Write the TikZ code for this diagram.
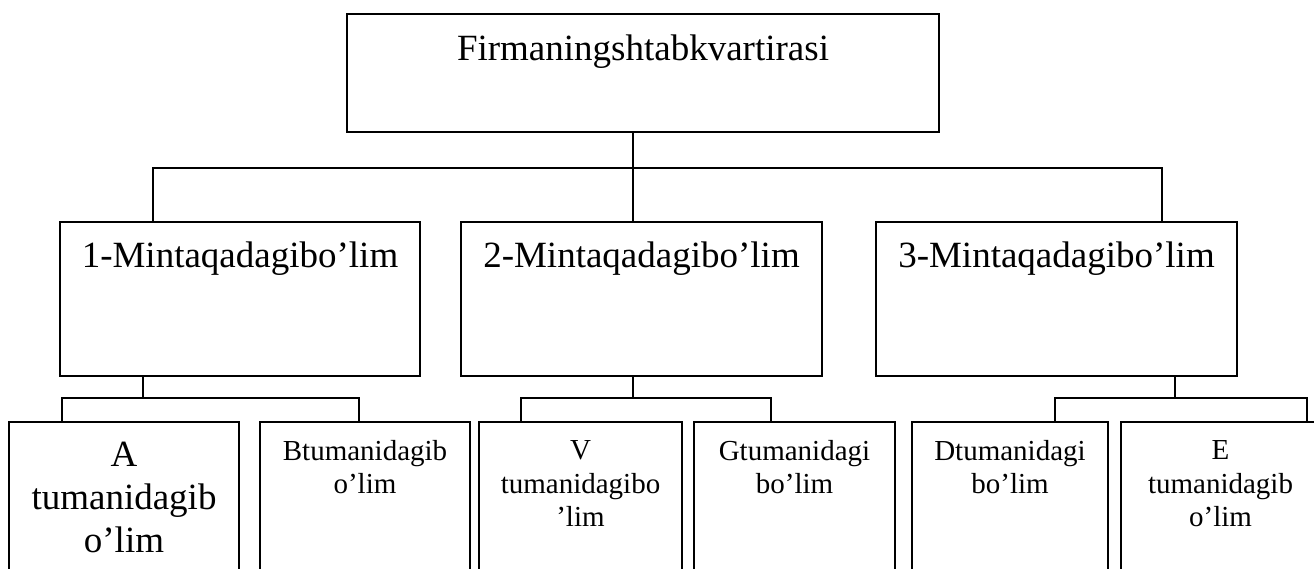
\documentclass[tikz,border=0pt]{standalone}
\usepackage{fontspec}
\setmainfont{Liberation Serif}
\begin{document}
% one unit = one point, y axis pointing down
\newcommand\celltext[4]{\parbox[c][#2pt][t]{#1pt}{\centering\vspace{#3pt}#4\par}}
\begin{tikzpicture}[x=1pt,y=-1pt,
  unit/.style={draw, line width=1.8pt, inner sep=0pt, outer sep=0pt, anchor=north west},
  link/.style={line width=1.8pt},
  big/.style={font=\fontsize{37}{43}\selectfont},
  small/.style={font=\fontsize{29}{33.5}\selectfont}]
\useasboundingbox (0,0) rectangle (1314,569);
\clip (0,0) rectangle (1314,569);

% headquarters
\node[unit,big] (hq) at (347,14) {\celltext{592}{118}{20.7}{Firmaningshtabkvartirasi}};

% regional departments
\node[unit,big] (r1) at (60,222)  {\celltext{360}{154}{19.7}{1-Mintaqadagibo’lim}};
\node[unit,big] (r2) at (461,222) {\celltext{361}{154}{19.7}{2-Mintaqadagibo’lim}};
\node[unit,big] (r3) at (876,222) {\celltext{361}{154}{19.7}{3-Mintaqadagibo’lim}};

% district departments
\node[unit,big]   (dA) at (9,422)    {\celltext{230}{160}{20.1}{A\\tumanidagib\\o’lim}};
\node[unit,small] (dB) at (260,422)  {\celltext{210}{160}{18.2}{Btumanidagib\\o’lim}};
\node[unit,small] (dV) at (479,422)  {\celltext{203}{160}{18.8}{V\\tumanidagibo\\’lim}};
\node[unit,small] (dG) at (694,422)  {\celltext{201}{160}{18.2}{Gtumanidagi\\bo’lim}};
\node[unit,small] (dD) at (912,422)  {\celltext{196}{160}{18.2}{Dtumanidagi\\bo’lim}};
\node[unit,small] (dE) at (1121,422) {\celltext{199}{160}{18.8}{E\\tumanidagib\\o’lim}};

% bus from the headquarters to the regions
\coordinate (hqout) at (633,132);
\coordinate (busL) at (153,168);
\coordinate (busM) at (633,168);
\coordinate (busR) at (1162,168);
\draw[link] (hqout) -- (busM);
\draw[link] (busL |- r1.north) -- (busL) -- (busR) -- (busR |- r3.north);
\draw[link] (busM) -- (busM |- r2.north);

% region 1 to districts A and B
\coordinate (o1) at (143,376);
\coordinate (b1) at (143,398);
\coordinate (b1L) at (62,398);
\coordinate (b1R) at (359,398);
\draw[link] (o1) -- (b1);
\draw[link] (b1L |- dA.north) -- (b1L) -- (b1R) -- (b1R |- dB.north);

% region 2 to districts V and G
\coordinate (o2) at (633,376);
\coordinate (b2) at (633,398);
\coordinate (b2L) at (521,398);
\coordinate (b2R) at (771,398);
\draw[link] (o2) -- (b2);
\draw[link] (b2L |- dV.north) -- (b2L) -- (b2R) -- (b2R |- dG.north);

% region 3 to districts D and E
\coordinate (o3) at (1175,376);
\coordinate (b3) at (1175,398);
\coordinate (b3L) at (1055,398);
\coordinate (b3R) at (1307,398);
\draw[link] (o3) -- (b3);
\draw[link] (b3L |- dD.north) -- (b3L) -- (b3R) -- (b3R |- dE.north);
\end{tikzpicture}
\end{document}
